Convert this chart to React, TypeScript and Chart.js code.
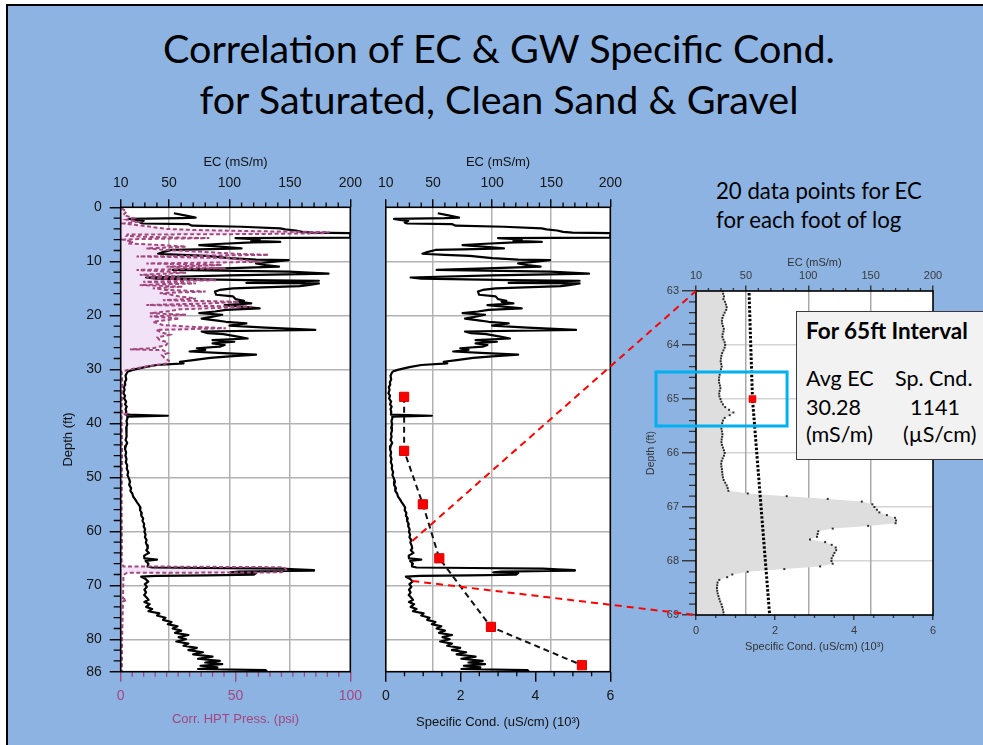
import React, { useEffect, useRef } from "react";
import { Chart, registerables } from "chart.js";

Chart.register(...registerables);

// ---------------- data ----------------
// Main EC log: [depth (ft), EC (mS/m)]
const EC_LOG: [number, number][] = [
  [1.1, 54], [1.5, 63], [1.9, 72], [2.0, 60], [2.15, 17], [2.35, 22], [2.5, 29], [2.8, 26], [3.0, 28], [3.1, 66],
  [3.4, 69], [3.6, 110], [3.9, 142], [4.1, 146], [4.3, 155], [4.55, 160], [4.7, 168], [4.8, 200], [5.6, 200], [5.7, 105],
  [5.9, 120], [6.0, 125], [6.2, 118], [6.4, 142], [6.5, 119], [6.8, 90], [7.0, 75], [7.3, 92], [7.6, 110], [7.8, 75],
  [7.9, 52], [8.3, 45], [8.6, 41], [8.8, 60], [9.0, 81], [9.4, 100], [9.7, 122], [9.8, 149], [10.1, 135], [10.4, 122],
  [10.7, 130], [11.0, 141], [11.3, 95], [11.6, 53], [11.9, 149], [12.3, 182], [12.6, 100], [13.0, 31], [13.2, 40], [13.5, 116],
  [13.6, 174], [14.0, 114], [14.1, 174], [14.4, 165], [14.6, 158], [15.0, 103], [15.3, 92], [15.6, 88], [16.2, 89], [16.5, 103],
  [17.0, 105], [17.3, 112], [17.5, 108], [17.8, 118], [18.1, 96], [18.4, 110], [18.7, 125], [19.0, 97], [19.3, 88], [19.6, 75],
  [19.9, 94], [20.3, 85], [20.6, 77], [21.0, 90], [21.2, 97], [21.5, 114], [21.9, 100], [22.3, 130], [22.7, 171], [23.0, 77],
  [23.3, 82], [23.5, 95], [24.0, 108], [24.3, 115], [24.6, 86], [24.9, 104], [25.2, 86], [25.5, 96], [25.8, 92], [26.1, 73],
  [26.4, 80], [26.7, 67], [27.0, 95], [27.3, 122], [27.6, 100], [27.9, 84], [28.3, 70], [28.6, 59], [28.9, 62], [29.2, 40],
  [29.6, 30], [30.1, 20], [30.4, 16], [30.7, 15], [31.2, 14], [31.9, 14.6], [32.4, 13.4], [32.8, 13.8], [33.3, 12.6], [33.8, 13.2],
  [34.4, 12.2], [34.9, 13.6], [35.4, 12.8], [36.0, 14.5], [36.5, 13.6], [36.9, 15], [37.4, 14], [37.8, 14.6], [38.4, 14.4], [38.6, 49],
  [38.75, 16], [39.1, 15.5], [39.6, 14.8], [40.2, 15.4], [40.8, 14.6], [41.4, 15.2], [41.9, 14.4], [42.5, 14.9], [43.1, 14], [43.6, 15.4],
  [44.2, 14.2], [44.8, 13.6], [45.4, 14.5], [46.0, 13.9], [46.6, 14.8], [47.2, 14.2], [47.8, 15.4], [48.4, 15], [49.0, 16.2], [49.6, 15.6],
  [50.2, 16.8], [50.8, 17.7], [51.4, 17], [52.0, 18.6], [52.5, 18], [53.0, 19.6], [53.6, 20.4], [54.1, 22], [54.6, 23.4], [55.1, 25],
  [55.6, 26.4], [56.1, 26], [56.6, 27.4], [57.1, 27], [57.6, 28.6], [58.1, 28], [58.6, 29.4], [59.1, 29], [59.6, 30.2], [60.1, 29.6],
  [60.6, 30.6], [61.1, 30], [61.6, 31.4], [62.1, 30.8], [62.6, 31.8], [63.1, 32.4], [63.5, 31.2], [64.0, 33.4], [64.5, 29.4], [65.0, 29.6],
  [65.25, 40], [65.5, 30.6], [66.0, 33], [66.5, 32.2], [66.7, 36], [66.8, 83], [66.9, 143], [67.05, 155], [67.2, 170], [67.3, 170],
  [67.35, 148], [67.45, 108], [67.6, 101], [67.75, 122], [68.05, 120], [68.15, 81], [68.25, 39], [68.4, 27], [68.8, 30.4], [69.3, 32.8],
  [69.8, 30], [70.3, 31.6], [70.8, 29.6], [71.3, 31], [71.8, 29.4], [72.3, 31.6], [72.7, 33], [73.1, 29.6], [73.5, 34], [74.0, 31],
  [74.4, 36], [74.8, 33], [75.2, 42], [75.6, 40], [76.0, 47], [76.4, 45], [76.8, 52], [77.2, 49], [77.6, 57], [78.0, 53],
  [78.4, 60], [78.8, 55], [79.2, 66], [79.6, 58], [80.0, 64], [80.4, 56], [80.8, 66], [81.2, 62], [81.6, 73], [82.0, 66],
  [82.4, 78], [82.8, 70], [83.2, 86], [83.6, 74], [84.0, 92], [84.3, 80], [84.6, 94], [84.9, 76], [85.2, 90], [85.5, 74],
  [85.7, 130], [86.0, 131],
];

// Corrected HPT pressure: [depth (ft), psi]
const HPT_LOG: [number, number][] = [
  [0.2, 0.4], [0.8, 2.6], [1.4, 1.2], [2.0, 5.5], [2.3, 2.6], [2.7, 7.6], [3.0, 1.2], [3.5, 11.2], [4.0, 20], [4.2, 31.4],
  [4.45, 63], [4.6, 91], [4.8, 88], [4.95, 60], [5.05, 3], [5.3, 2.6], [5.5, 12.7], [5.7, 38.6], [5.9, 6], [6.0, 1.2],
  [6.4, 5.5], [6.7, 3], [7.0, 18.4], [7.3, 28.5], [7.6, 11.2], [7.9, 19.9], [8.2, 34], [8.6, 50], [8.8, 64.5], [9.0, 30],
  [9.1, 6.9], [9.4, 47], [9.8, 55], [10.1, 58.7], [10.3, 30], [10.4, 11.2], [10.7, 44], [11.0, 19.9], [11.3, 45.8], [11.6, 6.9],
  [12.1, 28.5], [12.5, 8.3], [12.8, 25.6], [13.1, 11.2], [13.5, 41.5], [13.8, 9.8], [14.1, 32.8], [14.4, 8.3], [14.7, 27], [15.0, 14],
  [15.3, 19.9], [15.6, 37], [15.9, 17], [16.2, 22], [16.5, 25.6], [16.9, 32.8], [17.2, 18.4], [17.5, 51.5], [17.8, 38.6], [18.1, 11.2],
  [18.4, 57], [18.9, 25.6], [19.3, 20], [19.6, 12.7], [19.9, 28.5], [20.2, 12.7], [20.6, 25.6], [21.2, 14], [21.8, 18.4], [22.1, 30],
  [22.4, 45.8], [22.7, 15.5], [23.2, 18], [23.6, 21.3], [24.1, 16], [24.6, 17], [25.0, 20.6], [25.5, 19.9], [26.1, 14], [26.3, 4],
  [26.45, 18.4], [27.0, 20.6], [27.4, 18], [27.9, 19.1], [28.4, 21], [28.9, 20.6], [29.5, 11.2], [30.0, 4], [30.4, 0.4], [33.0, 0.8],
  [36.9, 0.4], [38.0, 0.6], [38.2, 2.6], [38.5, 0.4], [45.0, 0.6], [55.0, 0.4], [62.0, 0.5], [65.9, 0.4], [66.5, 1.2], [66.65, 71],
  [67.1, 72], [67.6, 70], [67.7, 2.6], [68.1, 1.2], [72.4, 1], [72.7, 2.6], [73.0, 1], [80.0, 0.6], [86.0, 0.5],
];

// Groundwater specific conductance samples (10^3 uS/cm)
const SC_DEPTH = [35.1, 45.1, 55.0, 65.0, 77.7, 84.8];
const SC_VALUES = [0.49, 0.49, 0.99, 1.43, 2.81, 5.24];

// 20 EC readings per foot, 63.00 ft to 69.00 ft
const DETAIL_TOP = 63;
const DETAIL_STEP = 0.05;
const DETAIL_EC = [
  31.5, 31.8, 32.4, 32.0, 33.2, 34.0, 34.6, 34.2, 33.0, 32.0,
  31.2, 30.8, 31.0, 31.6, 32.3, 32.0, 31.4, 31.2, 32.0, 33.0,
  33.4, 33.0, 32.0, 31.0, 30.4, 30.0, 29.8, 30.2, 30.6, 30.0,
  29.4, 29.0, 28.6, 28.4, 28.6, 29.2, 29.6, 29.0, 28.6, 28.8,
  29.6, 30.4, 31.6, 33.4, 36.5, 40.0, 37.0, 33.0, 31.6, 31.0,
  30.6, 30.4, 30.8, 31.2, 31.0, 30.6, 30.4, 30.8, 31.6, 32.4,
  33.0, 32.4, 31.4, 30.6, 30.2, 30.4, 30.8, 31.0, 31.2, 31.6,
  32.2, 33.4, 34.6, 35.4, 36.0, 51.5, 82.7, 115.6, 142.9, 151.4,
  153.0, 155.0, 157.0, 163.0, 169.6, 170.4, 170.0, 148.0, 119.6, 108.0,
  107.5, 107.0, 101.4, 113.5, 118.8, 122.0, 122.4, 121.0, 120.0, 118.8,
  118.6, 119.6, 109.5, 80.8, 51.4, 39.1, 35.0, 28.7, 27.3, 27.0,
  26.8, 27.0, 27.4, 28.0, 28.7, 29.4, 30.4, 31.0, 31.6, 32.0,
  32.4,
];

// tick labels / grid positions
const EC_LABELS = [10, 50, 100, 150, 200];
const EC_GRID = [50, 100, 150];
const DEPTH_LABELS = [0, 10, 20, 30, 40, 50, 60, 70, 80, 86];
const DEPTH_GRID = [10, 20, 30, 40, 50, 60, 70, 80];
const HPT_LABELS = [0, 50, 100];
const SC_LABELS = [0, 2, 4, 6];
const ZOOM_DEPTH_LABELS = [63, 64, 65, 66, 67, 68, 69];
const ZOOM_DEPTH_GRID = [64, 65, 66, 67, 68];

// annotation anchors
const LINK_EC = 32.4;
const LINK_DEPTH_TOP = 61.8;
const LINK_DEPTH_BOTTOM = 69.2;
const HILITE_DEPTHS = [64.5, 65.5];
const HILITE_EC = 83;

// ---------------- styling ----------------
const AXIS_FONT = "'Liberation Sans', Arial, Helvetica, sans-serif";
const SLIDE_FONT = "Lato, 'Open Sans', sans-serif";
const PURPLE = "#A3477F";
const LAVENDER = "#F2E2F8";
const BLUE_BG = "#8DB3E2";
const CLEAR = "rgba(0,0,0,0)";

const LEFT_POS = { left: 40, top: 140, width: 330, height: 600 };
const MID_POS = { left: 370, top: 140, width: 260, height: 600 };
const RIGHT_POS = { left: 630, top: 250, width: 330, height: 420 };

const near = (list: number[], v: number) => list.some((x) => Math.abs(x - v) < 1e-6);
const fmt = (v: number) => String(Math.round(v * 1000) / 1000);

type AxisOpts = {
  position: "left" | "top" | "bottom";
  min: number;
  max: number;
  step: number;
  reverse?: boolean;
  labels: number[];
  gridAt: number[];
  gridColor?: string;
  tickLen: number;
  tickColor: string;
  labelColor: string;
  fontSize: number;
  pad: number;
  title?: string;
  titleColor?: string;
  titleSize?: number;
  titlePad?: number;
  size: number;
  showLabels?: boolean;
  drawTicks?: boolean;
  onChart?: boolean;
};

function axis(o: AxisOpts): any {
  const horizontal = o.position !== "left";
  const tp = o.titlePad ?? 0;
  return {
    type: "linear",
    position: o.position,
    min: o.min,
    max: o.max,
    reverse: !!o.reverse,
    ticks: {
      stepSize: o.step,
      autoSkip: false,
      maxRotation: 0,
      minRotation: 0,
      display: o.showLabels !== false,
      color: o.labelColor,
      padding: o.pad,
      font: { family: AXIS_FONT, size: o.fontSize },
      callback: (v: number) => (near(o.labels, v) ? fmt(v) : ""),
    },
    grid: {
      display: true,
      drawOnChartArea: o.onChart !== false,
      drawTicks: o.drawTicks !== false,
      tickLength: o.tickLen,
      lineWidth: 1.5,
      tickWidth: 1.4,
      color: (c: any) => (c.tick && o.gridColor && near(o.gridAt, c.tick.value) ? o.gridColor : CLEAR),
      tickColor: (c: any) => (c.tick && near(o.labels, c.tick.value) ? o.tickColor : CLEAR),
    },
    border: { display: false },
    title: {
      display: !!o.title,
      text: o.title || "",
      color: o.titleColor || "#111",
      font: { family: AXIS_FONT, size: o.titleSize || 12 },
      padding: o.position === "bottom" ? { top: 0, bottom: tp } : { top: tp, bottom: 0 },
    },
    afterFit: (s: any) => {
      if (horizontal) s.height = o.size;
      else s.width = o.size;
    },
  };
}

type MinorSpec = { id: string; len: number; color: string; side: "left" | "top" | "bottom" };

function framePlugin(minors: MinorSpec[]) {
  return {
    id: "frame",
    beforeDraw(chart: any) {
      const { ctx, chartArea: a } = chart;
      ctx.save();
      ctx.fillStyle = "#ffffff";
      ctx.fillRect(a.left, a.top, a.right - a.left, a.bottom - a.top);
      ctx.restore();
    },
    afterDraw(chart: any) {
      const { ctx, chartArea: a } = chart;
      ctx.save();
      for (const m of minors) {
        const s = chart.scales[m.id];
        if (!s) continue;
        ctx.strokeStyle = m.color;
        ctx.lineWidth = 1.3;
        ctx.beginPath();
        for (const t of s.ticks) {
          if (t.label !== "") continue;
          const p = s.getPixelForValue(t.value);
          if (m.side === "left") {
            ctx.moveTo(a.left - m.len, p);
            ctx.lineTo(a.left, p);
          } else if (m.side === "top") {
            ctx.moveTo(p, a.top - m.len);
            ctx.lineTo(p, a.top);
          } else {
            ctx.moveTo(p, a.bottom);
            ctx.lineTo(p, a.bottom + m.len);
          }
        }
        ctx.stroke();
      }
      ctx.strokeStyle = "#000";
      ctx.lineWidth = 1.6;
      ctx.strokeRect(a.left, a.top, a.right - a.left, a.bottom - a.top);
      ctx.restore();
    },
  };
}

const baseOptions = {
  animation: false,
  responsive: false,
  maintainAspectRatio: false,
  indexAxis: "y",
  events: [],
  plugins: { legend: { display: false }, tooltip: { enabled: false } },
};

const ecPoints = () => EC_LOG.map(([d, e]) => ({ x: e, y: d }));
const hptPoints = () => HPT_LOG.map(([d, p]) => ({ x: p, y: d }));
const scPoints = () => SC_DEPTH.map((d, i) => ({ x: SC_VALUES[i], y: d }));
const detailPoints = () => DETAIL_EC.map((e, i) => ({ x: e, y: DETAIL_TOP + i * DETAIL_STEP }));

function ecLine(): any {
  return {
    label: "EC",
    data: ecPoints(),
    xAxisID: "xEc",
    yAxisID: "y",
    borderColor: "#000",
    borderWidth: 2.2,
    borderJoinStyle: "round",
    pointRadius: 0,
    fill: false,
  };
}

function topEcAxis(): any {
  return axis({
    position: "top", min: 10, max: 200, step: 10, labels: EC_LABELS, gridAt: EC_GRID, gridColor: "#b2b2b2",
    tickLen: 8, tickColor: "#000", labelColor: "#151515", fontSize: 14, pad: 8,
    title: "EC (mS/m)", titleSize: 13, titlePad: 14.9, size: 67.3,
  });
}

function leftConfig(): any {
  return {
    type: "line",
    data: {
      datasets: [
        {
          label: "Corr. HPT Press.",
          data: hptPoints(),
          xAxisID: "xHpt",
          yAxisID: "y",
          borderColor: PURPLE,
          borderWidth: 2,
          borderDash: [4, 2.5],
          pointRadius: 0,
          fill: false,
        },
        ecLine(),
        {
          label: "HPT fill",
          data: hptPoints(),
          xAxisID: "xHpt",
          yAxisID: "y",
          borderWidth: 0,
          borderColor: CLEAR,
          backgroundColor: LAVENDER,
          pointRadius: 0,
          fill: "origin",
        },
      ],
    },
    options: {
      ...baseOptions,
      layout: { padding: { left: 0, top: 0, right: 17.7, bottom: 0 } },
      scales: {
        y: axis({
          position: "left", min: 0, max: 86, step: 2, reverse: true, labels: DEPTH_LABELS, gridAt: DEPTH_GRID,
          gridColor: "#b2b2b2", tickLen: 11, tickColor: "#000", labelColor: "#151515", fontSize: 14, pad: 8,
          title: "Depth (ft)", titleSize: 13, titlePad: 20.2, size: 80.7,
        }),
        xEc: topEcAxis(),
        xHpt: axis({
          position: "bottom", min: 0, max: 100, step: 5, labels: HPT_LABELS, gridAt: [], tickLen: 10,
          tickColor: PURPLE, labelColor: PURPLE, fontSize: 14, pad: 6, title: "Corr. HPT Press. (psi)",
          titleColor: PURPLE, titleSize: 13, titlePad: 12.9, size: 68.3, onChart: false,
        }),
      },
    },
    plugins: [
      framePlugin([
        { id: "y", len: 7, color: "#000", side: "left" },
        { id: "xEc", len: 4.7, color: "#000", side: "top" },
        { id: "xHpt", len: 5, color: PURPLE, side: "bottom" },
      ]),
    ],
  };
}

function midConfig(): any {
  return {
    type: "line",
    data: {
      datasets: [
        {
          label: "Specific Cond.",
          data: scPoints(),
          xAxisID: "xSc",
          yAxisID: "y",
          borderColor: "#111",
          borderWidth: 2,
          borderDash: [6, 4],
          pointStyle: "rect",
          pointRadius: 6.5,
          pointBackgroundColor: "#FF0000",
          pointBorderColor: "#D40000",
          pointBorderWidth: 1,
          fill: false,
        },
        ecLine(),
      ],
    },
    options: {
      ...baseOptions,
      layout: { padding: { left: 0, top: 0, right: 18.3, bottom: 0 } },
      scales: {
        y: axis({
          position: "left", min: 0, max: 86, step: 2, reverse: true, labels: DEPTH_LABELS, gridAt: DEPTH_GRID,
          gridColor: "#b2b2b2", tickLen: 0, tickColor: "#000", labelColor: "#151515", fontSize: 14, pad: 0,
          size: 10.7, showLabels: false, drawTicks: false,
        }),
        xEc: topEcAxis(),
        xSc: axis({
          position: "bottom", min: 0, max: 6, step: 0.5, labels: SC_LABELS, gridAt: [], tickLen: 10,
          tickColor: "#000", labelColor: "#151515", fontSize: 14, pad: 6,
          title: "Specific Cond. (uS/cm) (10\u00B3)", titleSize: 13, titlePad: 9.5, size: 68.3, onChart: false,
        }),
      },
    },
    plugins: [
      framePlugin([
        { id: "xEc", len: 4.7, color: "#000", side: "top" },
        { id: "xSc", len: 4.5, color: "#000", side: "bottom" },
      ]),
    ],
  };
}

function rightConfig(): any {
  return {
    type: "line",
    data: {
      datasets: [
        {
          label: "Specific Cond.",
          data: scPoints(),
          xAxisID: "xSc",
          yAxisID: "y",
          borderColor: "#000",
          borderWidth: 3,
          borderDash: [2.5, 1.8],
          pointStyle: "rect",
          pointRadius: 5,
          pointBackgroundColor: "#FF0000",
          pointBorderColor: "#E00000",
          pointBorderWidth: 0.5,
          fill: false,
        },
        {
          label: "EC (20 per ft)",
          data: detailPoints(),
          xAxisID: "xEc",
          yAxisID: "y",
          borderWidth: 0,
          borderColor: CLEAR,
          backgroundColor: "#DEDEDE",
          fill: "origin",
          pointStyle: "rect",
          pointRadius: 1.4,
          pointBackgroundColor: "#2a2a2a",
          pointBorderWidth: 0,
        },
      ],
    },
    options: {
      ...baseOptions,
      layout: { padding: { left: 0, top: 0, right: 27, bottom: 0 } },
      scales: {
        y: axis({
          position: "left", min: 63, max: 69, step: 0.2, reverse: true, labels: ZOOM_DEPTH_LABELS,
          gridAt: ZOOM_DEPTH_GRID, gridColor: "#d4d4d4", tickLen: 14, tickColor: "#333", labelColor: "#3a3a3a",
          fontSize: 11, pad: 3, title: "Depth (ft)", titleColor: "#333", titleSize: 10.5, titlePad: 14.7, size: 66,
        }),
        xEc: axis({
          position: "top", min: 10, max: 200, step: 10, labels: EC_LABELS, gridAt: EC_GRID, gridColor: "#a9a9a9",
          tickLen: 5.5, tickColor: "#333", labelColor: "#3a3a3a", fontSize: 11, pad: 2.9,
          title: "EC (mS/m)", titleColor: "#333", titleSize: 11, titlePad: 6, size: 41,
        }),
        xSc: axis({
          position: "bottom", min: 0, max: 6, step: 0.5, labels: SC_LABELS, gridAt: [], tickLen: 5,
          tickColor: "#333", labelColor: "#3a3a3a", fontSize: 11, pad: 4,
          title: "Specific Cond. (uS/cm) (10\u00B3)", titleColor: "#333", titleSize: 11, titlePad: 16.7, size: 55,
          onChart: false,
        }),
      },
    },
    plugins: [
      framePlugin([
        { id: "y", len: 7, color: "#333", side: "left" },
        { id: "xEc", len: 3, color: "#333", side: "top" },
        { id: "xSc", len: 3, color: "#333", side: "bottom" },
      ]),
    ],
  };
}

function drawOverlay(cv: HTMLCanvasElement, mid: any, right: any) {
  const ctx = cv.getContext("2d");
  if (!ctx) return;
  ctx.clearRect(0, 0, cv.width, cv.height);
  const ra = right.chartArea;
  const ax = MID_POS.left + mid.scales.xEc.getPixelForValue(LINK_EC);
  const a1 = MID_POS.top + mid.scales.y.getPixelForValue(LINK_DEPTH_TOP);
  const a2 = MID_POS.top + mid.scales.y.getPixelForValue(LINK_DEPTH_BOTTOM);
  ctx.save();
  ctx.strokeStyle = "#FF0000";
  ctx.lineWidth = 2;
  ctx.setLineDash([7, 5]);
  ctx.beginPath();
  ctx.moveTo(ax, a1);
  ctx.lineTo(RIGHT_POS.left + ra.left, RIGHT_POS.top + ra.top);
  ctx.moveTo(ax, a2);
  ctx.lineTo(RIGHT_POS.left + ra.left, RIGHT_POS.top + ra.bottom);
  ctx.stroke();
  ctx.setLineDash([]);
  ctx.strokeStyle = "#00B0F0";
  ctx.lineWidth = 3;
  const x1 = RIGHT_POS.left + ra.left - 40;
  const x2 = RIGHT_POS.left + right.scales.xEc.getPixelForValue(HILITE_EC);
  const y1 = RIGHT_POS.top + right.scales.y.getPixelForValue(HILITE_DEPTHS[0]);
  const y2 = RIGHT_POS.top + right.scales.y.getPixelForValue(HILITE_DEPTHS[1]);
  ctx.strokeRect(x1, y1, x2 - x1, y2 - y1);
  ctx.restore();
}

const LATO_ASC = 0.987;

function Txt(props: {
  x: number;
  baseline: number;
  size: number;
  bold?: boolean;
  width?: number;
  center?: boolean;
  children: React.ReactNode;
}) {
  const { x, baseline, size, bold, width, center, children } = props;
  return (
    <div
      style={{
        position: "absolute",
        left: x,
        top: baseline - LATO_ASC * size,
        width: width,
        textAlign: center ? "center" : "left",
        fontFamily: SLIDE_FONT,
        fontSize: size,
        lineHeight: 1.2,
        fontWeight: bold ? 700 : 400,
        color: "#000",
        whiteSpace: "nowrap",
      }}
    >
      {children}
    </div>
  );
}

export default function App() {
  const leftRef = useRef<HTMLCanvasElement>(null);
  const midRef = useRef<HTMLCanvasElement>(null);
  const rightRef = useRef<HTMLCanvasElement>(null);
  const overRef = useRef<HTMLCanvasElement>(null);

  useEffect(() => {
    const left = new Chart(leftRef.current as HTMLCanvasElement, leftConfig());
    const mid = new Chart(midRef.current as HTMLCanvasElement, midConfig());
    const right = new Chart(rightRef.current as HTMLCanvasElement, rightConfig());
    if (overRef.current) drawOverlay(overRef.current, mid, right);
    return () => {
      left.destroy();
      mid.destroy();
      right.destroy();
    };
  }, []);

  const cvStyle = (p: { left: number; top: number; width: number; height: number }): React.CSSProperties => ({
    position: "absolute",
    left: p.left,
    top: p.top,
    width: p.width,
    height: p.height,
  });

  return (
    <div
      style={{
        position: "absolute",
        left: 0,
        top: 0,
        width: 983,
        height: 745,
        background: "#ffffff",
        overflow: "hidden",
      }}
    >
      <div
        style={{
          position: "absolute",
          left: 6,
          top: 4,
          width: 1100,
          height: 900,
          background: BLUE_BG,
          border: "2px solid #000",
        }}
      />
      <Txt x={0} width={998} center baseline={62.7} size={39.5}>
        Correlation of EC &amp; GW Specific Cond.
      </Txt>
      <Txt x={0} width={998} center baseline={114.3} size={39.5}>
        for Saturated, Clean Sand &amp; Gravel
      </Txt>
      <Txt x={716} baseline={200} size={22.2}>
        20 data points for EC
      </Txt>
      <Txt x={716} baseline={228.5} size={22.2}>
        for each foot of log
      </Txt>

      <canvas ref={leftRef} width={LEFT_POS.width} height={LEFT_POS.height} style={cvStyle(LEFT_POS)} />
      <canvas ref={midRef} width={MID_POS.width} height={MID_POS.height} style={cvStyle(MID_POS)} />
      <canvas ref={rightRef} width={RIGHT_POS.width} height={RIGHT_POS.height} style={cvStyle(RIGHT_POS)} />
      <canvas
        ref={overRef}
        width={983}
        height={745}
        style={{ position: "absolute", left: 0, top: 0, width: 983, height: 745, pointerEvents: "none" }}
      />

      <div
        style={{
          position: "absolute",
          left: 796,
          top: 311,
          width: 220,
          height: 147,
          background: "#F2F2F2",
          border: "1.5px solid #3a3a3a",
        }}
      />
      <Txt x={806} baseline={339.3} size={22.5} bold>
        For 65ft Interval
      </Txt>
      <Txt x={806} baseline={387.7} size={21.5}>
        Avg EC
      </Txt>
      <Txt x={895} baseline={387.7} size={21.5}>
        Sp. Cnd.
      </Txt>
      <Txt x={806} baseline={416.7} size={21.5}>
        30.28
      </Txt>
      <Txt x={910} baseline={416.7} size={21.5}>
        1141
      </Txt>
      <Txt x={806} baseline={443.5} size={21.5}>
        (mS/m)
      </Txt>
      <Txt x={903} baseline={443.5} size={21.5}>
        (µS/cm)
      </Txt>
    </div>
  );
}
